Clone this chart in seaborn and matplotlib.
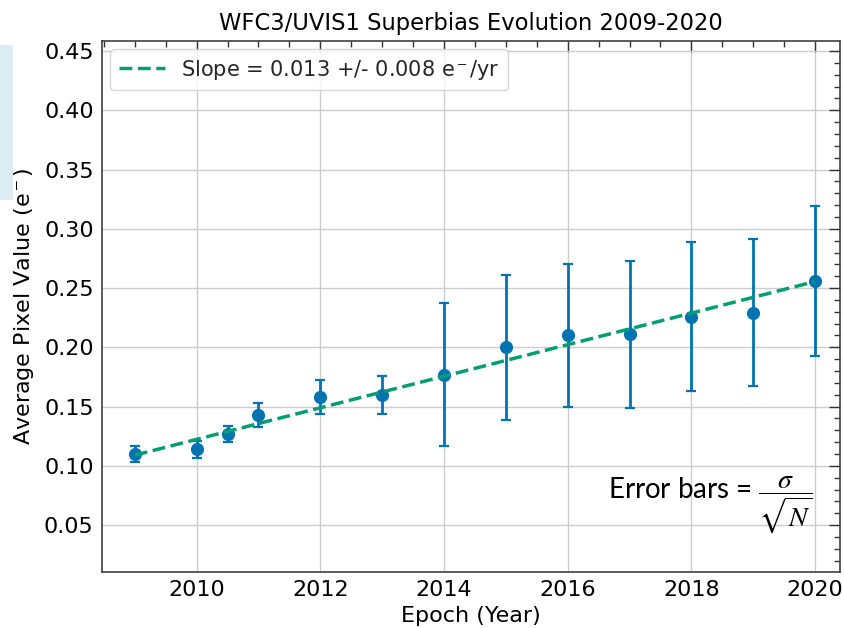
import numpy as np
import pandas as pd
import matplotlib
matplotlib.use("Agg")
import matplotlib.pyplot as plt
import matplotlib.patches as mpatches
from matplotlib.ticker import MultipleLocator, FormatStrFormatter
import seaborn as sns

# Superbias epochs and mean pixel values (e-), with sigma/sqrt(N) errors
epochs = [2009.0, 2010.0, 2010.5, 2011.0, 2012.0, 2013.0, 2014.0,
          2015.0, 2016.0, 2017.0, 2018.0, 2019.0, 2020.0]
mean_values = [0.110, 0.114, 0.127, 0.143, 0.158, 0.160, 0.177,
               0.200, 0.210, 0.211, 0.226, 0.229, 0.256]
errors = [0.007, 0.007, 0.007, 0.010, 0.014, 0.016, 0.060,
          0.061, 0.060, 0.062, 0.063, 0.062, 0.063]

# Linear trend endpoints
fit_years = [2009.0, 2020.0]
fit_values = [0.109, 0.2555]
fit_label = "Slope = 0.013 +/- 0.008 e$^-$/yr"

blue = "#0173B2"
green = "#029E73"

sns.set_theme(style="whitegrid")
plt.rcParams["font.family"] = ["DejaVu Sans"]
plt.rcParams["mathtext.fontset"] = "stix"

fig = plt.figure(figsize=(8.44, 6.28), dpi=100)
ax = fig.add_axes([0.1209, 0.0892, 0.8741, 0.8455])

# faint slide panel at the left edge
fig.patches.append(mpatches.Rectangle((0, 1 - 200 / 628), 13 / 844, 155 / 628,
                                      transform=fig.transFigure,
                                      facecolor="#dcedf4", edgecolor="none",
                                      zorder=0))

df = pd.DataFrame({"epoch": epochs, "value": mean_values, "err": errors})
fit_df = pd.DataFrame({"epoch": fit_years, "value": fit_values})

ax.errorbar(df["epoch"], df["value"], yerr=df["err"], fmt="none",
            ecolor=blue, elinewidth=2, capsize=3.5, capthick=1.6, zorder=3)
sns.scatterplot(data=df, x="epoch", y="value", ax=ax, color=blue, s=90,
                edgecolor=blue, linewidth=0, zorder=4, legend=False)
sns.lineplot(data=fit_df, x="epoch", y="value", ax=ax, color=green,
             linestyle="--", linewidth=2.5, label=fit_label, zorder=5)

ax.set_xlim(2008.47, 2020.4)
ax.set_ylim(0.0104, 0.4585)
ax.xaxis.set_major_locator(MultipleLocator(2))
ax.xaxis.set_minor_locator(MultipleLocator(0.5))
ax.yaxis.set_major_locator(MultipleLocator(0.05))
ax.yaxis.set_minor_locator(MultipleLocator(0.01))
ax.yaxis.set_major_formatter(FormatStrFormatter("%.2f"))

ax.tick_params(which="both", direction="in", top=True, right=True,
               color="0.2", labelsize=16, labelcolor="black")
ax.tick_params(which="major", length=8, width=1, pad=6)
ax.tick_params(which="minor", length=4, width=1)
ax.grid(True, which="major", color="#cccccc", linewidth=1)
ax.grid(False, which="minor")
for s in ax.spines.values():
    s.set_color("0.25")
    s.set_linewidth(1.2)

ax.set_xlabel("Epoch (Year)", fontsize=16, color="black", labelpad=4)
ax.set_ylabel("Average Pixel Value (e$^-$)", fontsize=16, color="black",
              labelpad=6)
ax.set_title("WFC3/UVIS1 Superbias Evolution 2009-2020", fontsize=16.3,
             color="black", pad=8)

leg = ax.legend(loc="upper left", fontsize=15, frameon=True,
                handlelength=2.2, borderaxespad=0.4)
leg.get_frame().set_edgecolor("#cccccc")

ax.text(0.963, 0.127, r"Error bars = $\dfrac{\sigma}{\sqrt{N}}$",
        transform=ax.transAxes, fontsize=20, family="Lato",
        ha="right", va="center", color="black")

fig.savefig("out.png", dpi=100)
